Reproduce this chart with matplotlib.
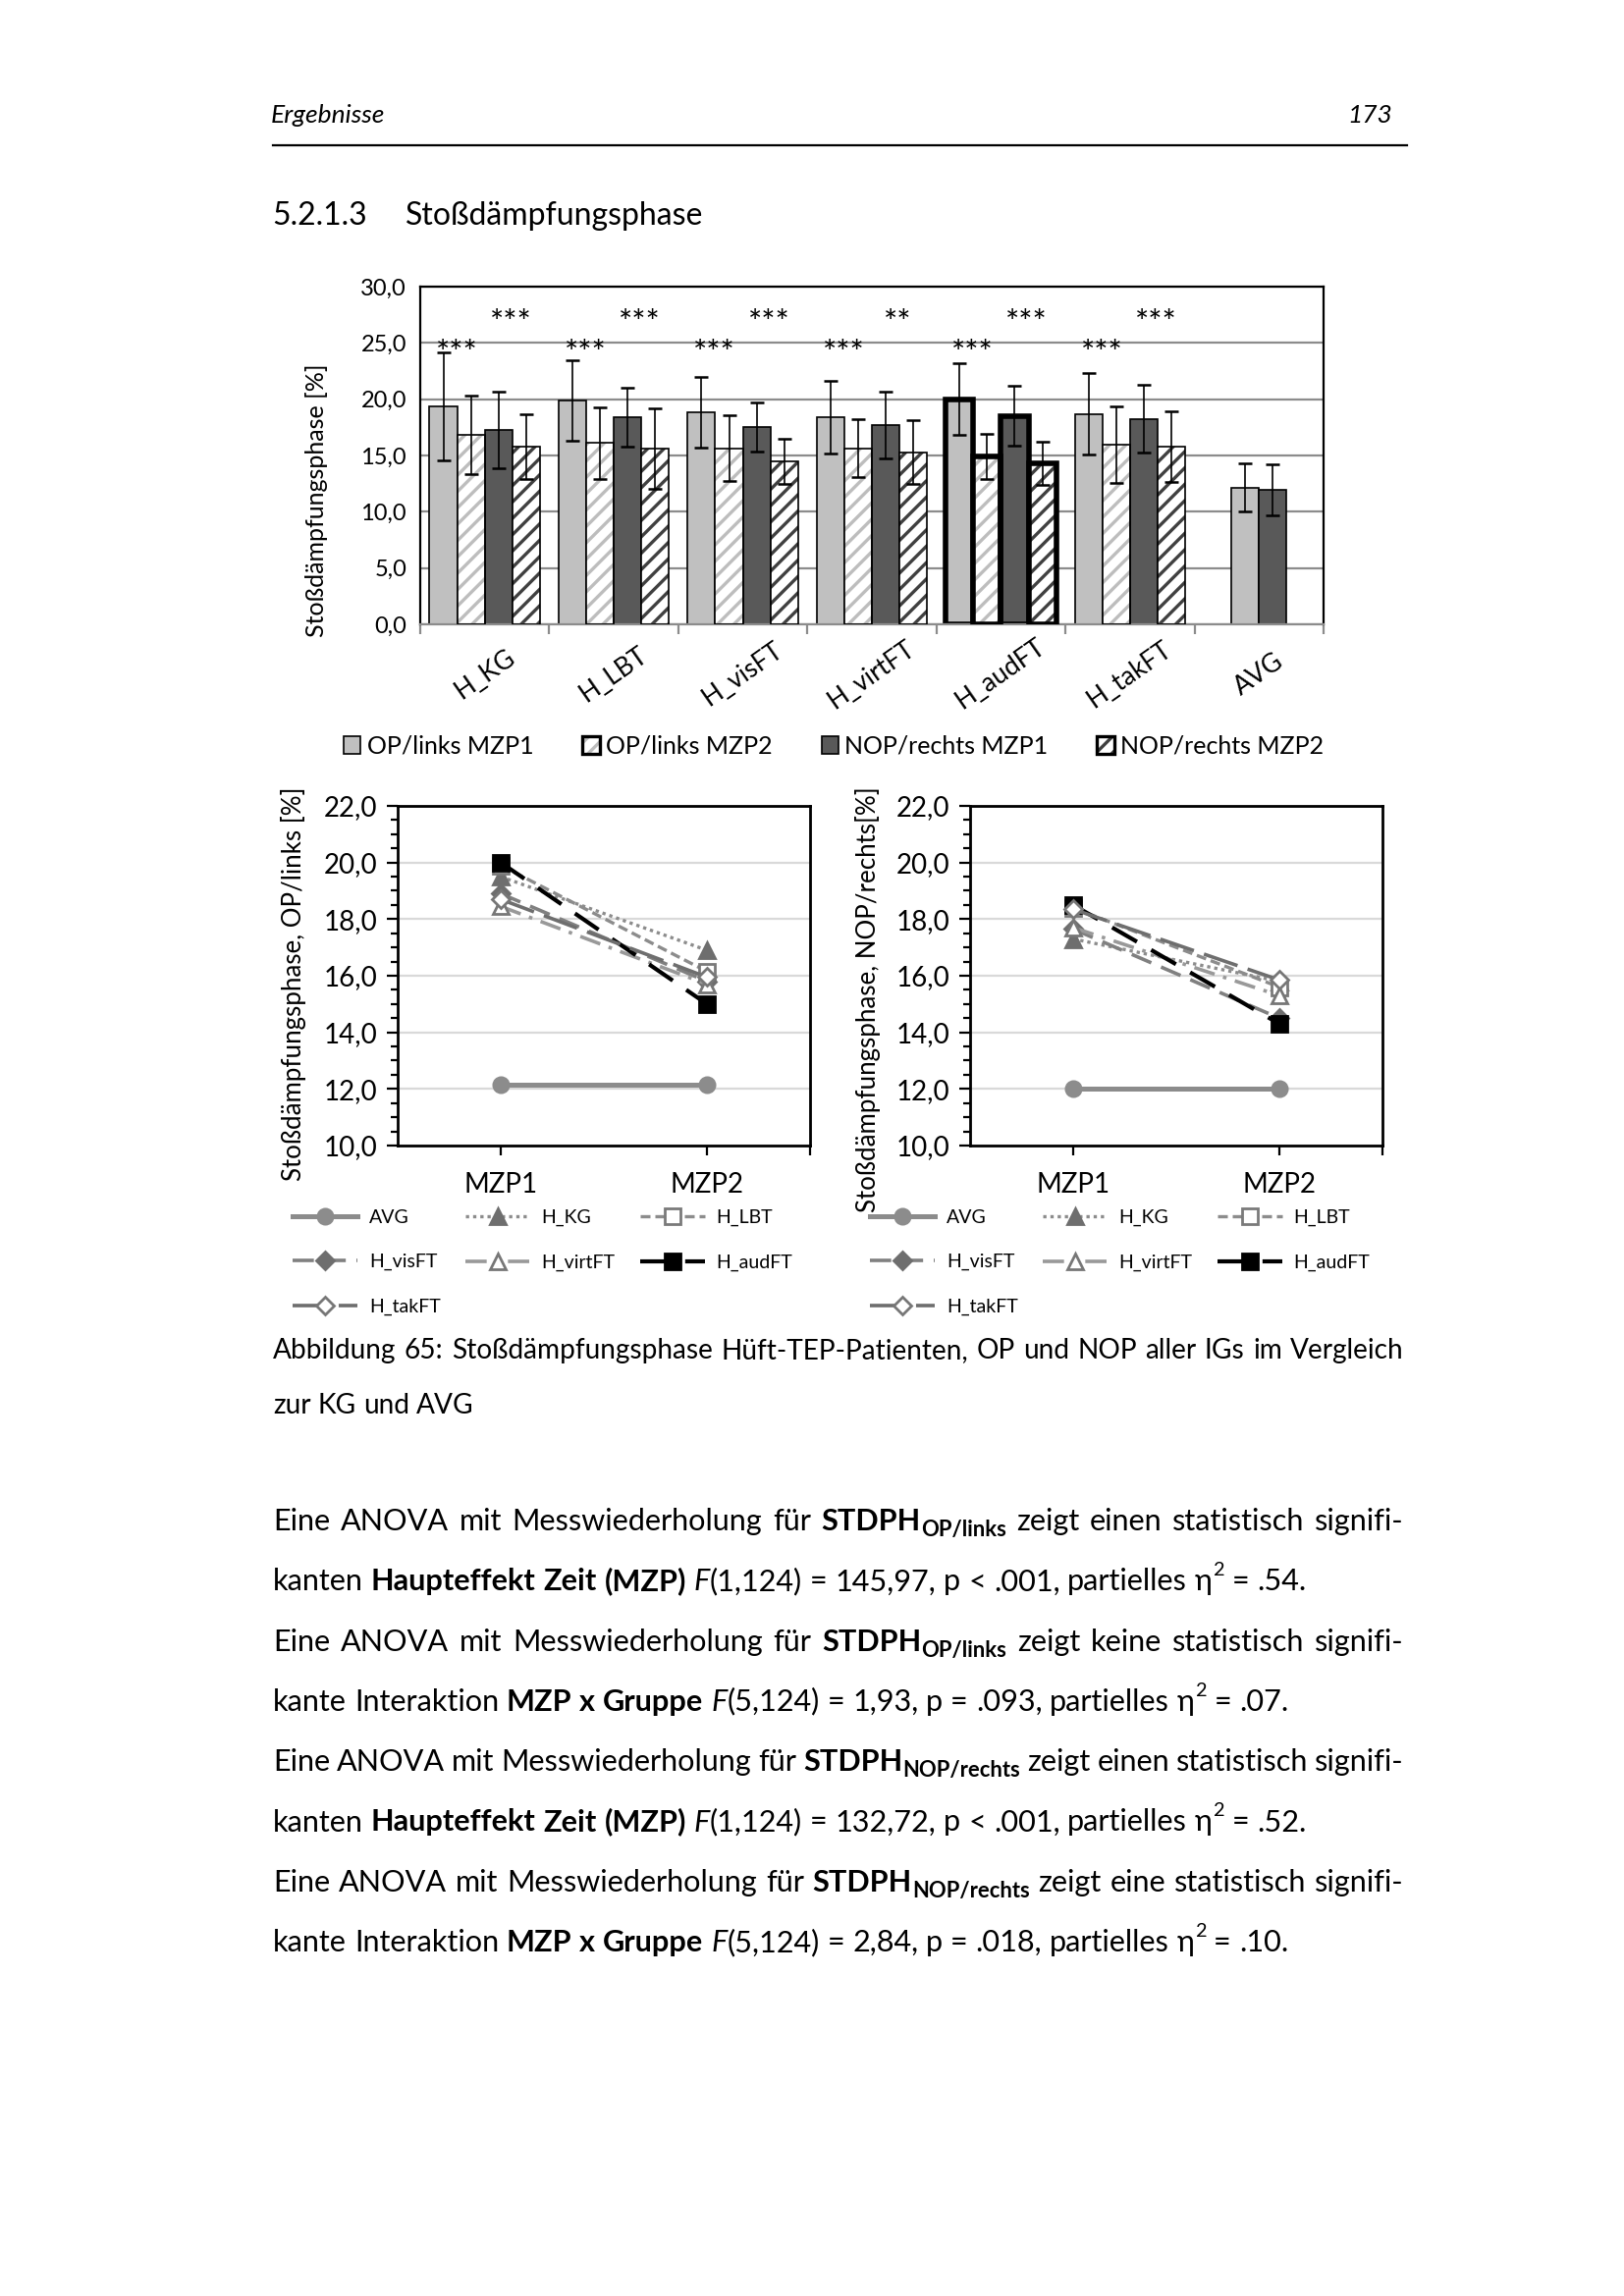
import numpy as np
import matplotlib
matplotlib.use('Agg')
import matplotlib.pyplot as plt
from matplotlib.lines import Line2D
from matplotlib.patches import Patch
from matplotlib.ticker import FuncFormatter, MultipleLocator
from matplotlib.legend_handler import HandlerTuple
import matplotlib.transforms as mtransforms

# ---- data ----
groups = ['H_KG', 'H_LBT', 'H_visFT', 'H_virtFT', 'H_audFT', 'H_takFT', 'AVG']
# bar chart (AVG only has MZP1 values)
op_mzp1 = [19.4, 19.9, 18.85, 18.4, 20.0, 18.7, 12.15]
op_mzp1_sd = [4.8, 3.6, 3.15, 3.25, 3.2, 3.6, 2.15]
op_mzp2 = [16.8, 16.1, 15.65, 15.65, 14.95, 15.95]
op_mzp2_sd = [3.5, 3.2, 2.9, 2.55, 2.0, 3.4]
nop_mzp1 = [17.3, 18.4, 17.55, 17.7, 18.5, 18.25, 11.95]
nop_mzp1_sd = [3.4, 2.65, 2.2, 2.95, 2.65, 3.0, 2.25]
nop_mzp2 = [15.8, 15.6, 14.5, 15.3, 14.3, 15.8]
nop_mzp2_sd = [2.85, 3.55, 2.0, 2.8, 1.9, 3.15]
stars_op = ['***', '***', '***', '***', '***', '***']
stars_nop = ['***', '***', '***', '**', '***', '***']
bar_labels = ['OP/links MZP1', 'OP/links MZP2', 'NOP/rechts MZP1', 'NOP/rechts MZP2']

# line charts
line_names = ['AVG', 'H_KG', 'H_LBT', 'H_visFT', 'H_virtFT', 'H_audFT', 'H_takFT']
mzp = ['MZP1', 'MZP2']
op_line_mzp1 = [12.15, 19.5, 19.9, 18.9, 18.45, 20.0, 18.7]
op_line_mzp2 = [12.15, 16.9, 16.15, 15.8, 15.7, 15.0, 15.95]
nop_line_mzp1 = [12.0, 17.3, 18.4, 17.65, 17.7, 18.5, 18.35]
nop_line_mzp2 = [12.0, 15.8, 15.6, 14.5, 15.3, 14.3, 15.85]

W, H = 1654, 2339
plt.rcParams['font.family'] = ['Lato', 'DejaVu Sans']
plt.rcParams['hatch.linewidth'] = 1.2

fig = plt.figure(figsize=(W / 200, H / 200), dpi=200)
renderer = fig.canvas.get_renderer()


def fx(px):
    return px / W


def fy(py):
    return 1 - py / H


def box(l, t, r, b):
    return [fx(l), fy(b), (r - l) / W, (b - t) / H]


def comma(v, pos=None):
    return f'{v:.1f}'.replace('.', ',')


# ---- header ----
fig.text(fx(276), fy(125), 'Ergebnisse', fontsize=9.5, fontstyle='italic')
fig.text(fx(1418), fy(125), '173', fontsize=9.5, fontstyle='italic', ha='right')
fig.add_artist(Line2D([fx(278), fx(1433)], [fy(148), fy(148)], color='black', lw=0.8))
fig.text(fx(277), fy(229), '5.2.1.3', fontsize=11.5)
fig.text(fx(413), fy(229), 'Stoßdämpfungsphase', fontsize=11.5)

# ---- bar chart ----
ax = fig.add_axes(box(428, 292, 1348, 636))
bw = 0.214
xi = np.arange(len(op_mzp2))
xa = len(op_mzp2)
op1_x = np.append(xi - 1.5 * bw, xa - 0.5 * bw)
op2_x = xi - 0.5 * bw
nop1_x = np.append(xi + 0.5 * bw, xa + 0.5 * bw)
nop2_x = xi + 1.5 * bw


def edge_w(n):
    lw = [0.6] * n
    lw[4] = 2.0  # H_audFT bars have a heavy outline
    return lw


def bars(xs, vals, sds, face, hatch_col):
    if hatch_col:
        ax.bar(xs, vals, bw, color='white', edgecolor=hatch_col, hatch='////', linewidth=0, zorder=2)
        ax.bar(xs, vals, bw, fill=False, edgecolor='black', linewidth=edge_w(len(vals)), zorder=3)
    else:
        ax.bar(xs, vals, bw, color=face, edgecolor='black', linewidth=edge_w(len(vals)), zorder=2)
    ax.errorbar(xs, vals, yerr=sds, fmt='none', ecolor='black', elinewidth=0.6,
                capsize=2.5, capthick=0.9, zorder=4)


bars(op1_x, op_mzp1, op_mzp1_sd, '#c0c0c0', None)
bars(op2_x, op_mzp2, op_mzp2_sd, None, '#bdbdbd')
bars(nop1_x, nop_mzp1, nop_mzp1_sd, '#595959', None)
bars(nop2_x, nop_mzp2, nop_mzp2_sd, None, '#404040')

for i, s in enumerate(stars_op):
    ax.text(i - 0.22, 24.0, s, ha='center', va='center', fontsize=12)
for i, s in enumerate(stars_nop):
    ax.text(i + 0.2, 26.7, s, ha='center', va='center', fontsize=12)

ax.set_xlim(-0.5, len(groups) - 0.5)
ax.set_ylim(0, 30)
ax.set_yticks(np.arange(0, 31, 5))
ax.yaxis.set_major_formatter(FuncFormatter(comma))
ax.yaxis.grid(True, color='#8c8c8c', lw=0.8)
ax.set_axisbelow(True)
ax.tick_params(axis='y', length=0, labelsize=8.5, pad=5)
ax.set_xticks(np.arange(-0.5, len(groups), 1))
ax.set_xticklabels([])
ax.tick_params(axis='x', length=3.5, color='#8c8c8c', direction='out')
for sp in ax.spines.values():
    sp.set_linewidth(0.8)
ax.spines['bottom'].set_color('#8c8c8c')
trans = mtransforms.blended_transform_factory(ax.transData, ax.transAxes)
for i, g in enumerate(groups):
    ax.text(i, -0.148, g, transform=trans, ha='center', va='center', rotation=35,
            rotation_mode='anchor', fontsize=9.5)
fig.text(fx(322), fy(510), 'Stoßdämpfungsphase [%]', rotation=90, ha='center', va='center', fontsize=9)

h1 = Patch(facecolor='#c0c0c0', edgecolor='black', lw=0.6)
h2 = (Patch(facecolor='white', edgecolor='#bdbdbd', hatch='////', lw=0), Patch(fill=False, edgecolor='black', lw=1.2))
h3 = Patch(facecolor='#595959', edgecolor='black', lw=0.6)
h4 = (Patch(facecolor='white', edgecolor='#404040', hatch='////', lw=0), Patch(fill=False, edgecolor='black', lw=1.2))
fig.legend([h1, h2, h3, h4], bar_labels, loc='center', bbox_to_anchor=(fx(849), fy(760)),
           ncol=4, frameon=False, fontsize=9, handlelength=0.7, handleheight=0.7,
           handletextpad=0.25, columnspacing=2.0, borderpad=0,
           handler_map={tuple: HandlerTuple(ndivide=1, pad=0)})

# ---- line charts ----
styles = [
    dict(color='#8c8c8c', lw=1.8, ls='-', marker='o', ms=5.5, mfc='#8c8c8c', mec='#8c8c8c'),
    dict(color='#8c8c8c', lw=1.2, ls=(0, (1, 1.2)), marker='^', ms=6, mfc='#6e6e6e', mec='#6e6e6e'),
    dict(color='#8c8c8c', lw=1.2, ls=(0, (3, 1.5)), marker='s', ms=5.5, mfc='white', mec='#7a7a7a'),
    dict(color='#808080', lw=1.3, ls=(0, (6, 3)), marker='D', ms=4.5, mfc='#6e6e6e', mec='#6e6e6e'),
    dict(color='#999999', lw=1.3, ls=(0, (6, 2.5, 1, 2.5)), marker='^', ms=6, mfc='white', mec='#777777'),
    dict(color='black', lw=1.5, ls=(0, (7, 4)), marker='s', ms=6, mfc='black', mec='black'),
    dict(color='#6e6e6e', lw=1.3, ls=(0, (10, 3)), marker='D', ms=4.5, mfc='white', mec='#777777'),
]


def line_panel(left, right, v1, v2, ylabel, ylab_x, ylab_y, leg_x):
    a = fig.add_axes(box(left, 821, right, 1167))
    hs = []
    for name, p1, p2, st in zip(line_names, v1, v2, styles):
        h, = a.plot([0, 1], [p1, p2], label=name, zorder=3, **st)
        hs.append(h)
    a.set_xlim(-0.5, 1.5)
    a.set_ylim(10, 22)
    a.set_yticks(np.arange(10, 23, 2))
    a.yaxis.set_minor_locator(MultipleLocator(0.5))
    a.yaxis.set_major_formatter(FuncFormatter(comma))
    a.yaxis.grid(True, color='#d9d9d9', lw=0.8)
    a.set_axisbelow(True)
    a.tick_params(axis='y', which='major', length=4, width=0.8, labelsize=10, direction='out')
    a.tick_params(axis='y', which='minor', length=2.5, width=0.8, direction='out')
    a.set_xticks([0, 1, 1.5])
    a.set_xticklabels(mzp + [''])
    a.tick_params(axis='x', length=3.6, width=0.8, labelsize=10, pad=6)
    for sp in a.spines.values():
        sp.set_linewidth(1.0)
        sp.set_color('black')
    fig.text(fx(ylab_x), fy(ylab_y), ylabel, rotation=90, ha='center', va='center', fontsize=9.3)
    order = [0, 3, 6, 1, 4, 2, 5]
    fig.legend([hs[k] for k in order], [line_names[k] for k in order], loc='upper left',
               bbox_to_anchor=(fx(leg_x), fy(1232)), ncol=3, frameon=False, fontsize=7,
               handlelength=3.4, handletextpad=0.6, columnspacing=1.3, labelspacing=1.45,
               borderpad=0, borderaxespad=0)
    return a


line_panel(405, 825, op_line_mzp1, op_line_mzp2, 'Stoßdämpfungsphase, OP/links [%]', 299, 1002, 298)
line_panel(988, 1408, nop_line_mzp1, nop_line_mzp2, 'Stoßdämpfungsphase, NOP/rechts[%]', 884, 1018, 886)

# ---- running text ----
X0, X1 = 278, 1430


def style_kw(st, size):
    kw = dict(fontsize=size, va='baseline', ha='left')
    dy = 0.0
    if st == 'b':
        kw['fontweight'] = 'bold'
    elif st == 'i':
        kw['fontstyle'] = 'italic'
    elif st == 'bs':
        kw['fontweight'] = 'bold'
        kw['fontsize'] = size * 0.72
        dy = -0.2 * size * 200 / 72
    elif st == 'sup':
        kw['fontsize'] = size * 0.65
        dy = 0.5 * size * 200 / 72
    return kw, dy


def words_of(chunks):
    words, cur = [], []
    for text, st in chunks:
        parts = text.split(' ')
        for k, p in enumerate(parts):
            if k > 0:
                if cur:
                    words.append(cur)
                cur = []
            if p:
                cur.append((p, st))
    if cur:
        words.append(cur)
    return words


def text_w(s, size, **kw):
    t = fig.text(0, 0, s, fontsize=size, **kw)
    w = t.get_window_extent(renderer).width
    t.remove()
    return w


def draw_line(chunks, y, size, justify):
    words = words_of(chunks)
    placed, widths = [], []
    for w in words:
        pieces, ww = [], 0.0
        for txt, st in w:
            kw, dy = style_kw(st, size)
            t = fig.text(0, 0, txt, **kw)
            pieces.append((t, ww, dy))
            ww += t.get_window_extent(renderer).width
        placed.append(pieces)
        widths.append(ww)
    space = text_w('a a', size) - text_w('aa', size)
    gap = (X1 - X0 - sum(widths)) / (len(words) - 1) if justify else space
    x = X0
    for pieces, ww in zip(placed, widths):
        for t, off, dy in pieces:
            t.set_position((fx(x + off), fy(y - dy)))
        x += ww + gap
    return x - gap


def natural_width(chunks, size):
    end = draw_line(chunks, -100, size, False) - X0
    for t in list(fig.texts):
        if t.get_position()[1] > 1.0:
            t.remove()
    return end


n, b, i, bs, sup = 'n', 'b', 'i', 'bs', 'sup'
body = [
    ([("Eine ANOVA mit Messwiederholung für ", n), ("STDPH", b), ("OP/links", bs),
      (" zeigt einen statistisch signifi-", n)], True),
    ([("kanten ", n), ("Haupteffekt Zeit (MZP)", b), (" ", n), ("F", i),
      ("(1,124) = 145,97, p < .001, partielles η", n), ("2", sup), (" = .54.", n)], False),
    ([("Eine ANOVA mit Messwiederholung für ", n), ("STDPH", b), ("OP/links", bs),
      (" zeigt keine statistisch signifi-", n)], True),
    ([("kante Interaktion ", n), ("MZP x Gruppe", b), (" ", n), ("F", i),
      ("(5,124) = 1,93, p = .093, partielles η", n), ("2", sup), (" = .07.", n)], False),
    ([("Eine ANOVA mit Messwiederholung für ", n), ("STDPH", b), ("NOP/rechts", bs),
      (" zeigt einen statistisch signifi-", n)], True),
    ([("kanten ", n), ("Haupteffekt Zeit (MZP)", b), (" ", n), ("F", i),
      ("(1,124) = 132,72, p < .001, partielles η", n), ("2", sup), (" = .52.", n)], False),
    ([("Eine ANOVA mit Messwiederholung für ", n), ("STDPH", b), ("NOP/rechts", bs),
      (" zeigt eine statistisch signifi-", n)], True),
    ([("kante Interaktion ", n), ("MZP x Gruppe", b), (" ", n), ("F", i),
      ("(5,124) = 2,84, p = .018, partielles η", n), ("2", sup), (" = .10.", n)], False),
]
caption = [
    ([("Abbildung 65: Stoßdämpfungsphase Hüft-TEP-Patienten, OP und NOP aller IGs im Vergleich", n)], True),
    ([("zur KG und AVG", n)], False),
]

# font sizes chosen so that the lines keep their width on the page
size = 10 * 1055 / natural_width(body[1][0], 10)
cap_size = min(size, size * 1135 / natural_width(caption[0][0], size))

for k, (chunks, just) in enumerate(caption):
    draw_line(chunks, 1384 + 56 * k, cap_size, just)
for k, (chunks, just) in enumerate(body):
    draw_line(chunks, 1559 + 61.3 * k, size, just)

fig.savefig('out.png', dpi=200)
